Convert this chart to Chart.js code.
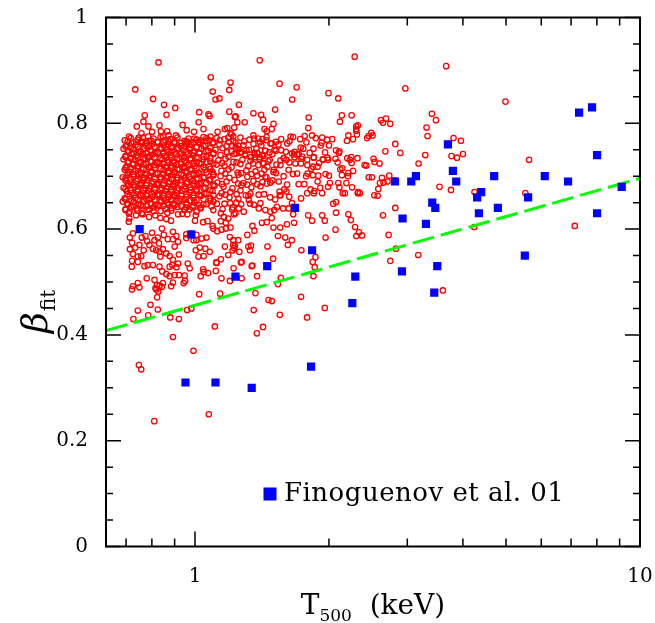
<!DOCTYPE html>
<html>
<head>
<meta charset="utf-8">
<script src="https://cdn.jsdelivr.net/npm/chart.js@4.4.1/dist/chart.umd.min.js"></script>
<style>
  html, body { margin: 0; padding: 0; background: #ffffff; }
  canvas { display: block; }
</style>
</head>
<body>
<canvas id="chart" width="655" height="623"></canvas>
<script>
// Observed clusters (Finoguenov et al. 2001): temperature T500 [keV] and beta
const finoguenovT = [0.751, 0.981, 1.677, 1.233, 1.453, 1.833, 0.952, 1.112, 1.341, 1.823,
  2.257, 2.292, 2.814, 3.062, 3.137, 2.927, 2.918, 3.304, 3.413, 3.467,
  3.449, 3.503, 3.701, 3.798, 3.864, 4.306, 4.396, 4.345, 4.702, 4.793,
  5.510, 5.605, 6.110, 6.892, 7.296, 7.803, 8.008, 8.008, 9.096];
const finoguenovBeta = [0.60, 0.59, 0.64, 0.51, 0.53, 0.56, 0.31, 0.31, 0.30, 0.34,
  0.46, 0.51, 0.69, 0.69, 0.70, 0.62, 0.52, 0.61, 0.65, 0.64,
  0.48, 0.53, 0.76, 0.71, 0.69, 0.66, 0.67, 0.63, 0.70, 0.64,
  0.55, 0.66, 0.70, 0.69, 0.82, 0.83, 0.74, 0.63, 0.68];

// Best-fit relation, straight in log T
const fitT = [0.631, 10];
const fitBeta = [0.408, 0.696];

// Simulated clusters [T500, beta]: the crowded low-temperature bulk
const simulatedBulk = [
  [0.695,0.768],[0.717,0.772],[0.743,0.769],[0.763,0.773],[0.790,0.767],[0.807,0.771],[0.837,0.774],[0.858,0.768],[0.881,0.770],[0.913,0.773],[0.947,0.767],[0.967,0.771],[1.008,0.769],[1.045,0.774],[1.077,0.768],[1.118,0.772],[1.165,0.770],[1.220,0.767],[1.265,0.773],[1.325,0.769],[1.388,0.771],[1.447,0.768],
  [0.702,0.758],[0.720,0.762],[0.735,0.759],[0.759,0.763],[0.778,0.757],[0.803,0.761],[0.824,0.764],[0.850,0.758],[0.872,0.760],[0.899,0.762],[0.928,0.757],[0.957,0.761],[0.982,0.759],[1.018,0.763],[1.055,0.758],[1.095,0.762],[1.135,0.760],[1.177,0.757],[1.233,0.763],[1.285,0.759],[1.353,0.761],[1.410,0.758],[1.478,0.762],[1.540,0.760],
  [0.691,0.752],[0.709,0.748],[0.728,0.751],[0.751,0.747],[0.770,0.753],[0.795,0.749],[0.815,0.746],[0.841,0.752],[0.863,0.750],[0.890,0.748],[0.918,0.753],[0.942,0.749],[0.972,0.751],[0.997,0.747],[1.034,0.752],[1.072,0.748],[1.112,0.750],[1.153,0.753],[1.208,0.747],[1.252,0.751],[1.305,0.749],[1.374,0.752],[1.440,0.748],[1.509,0.750],
  [0.698,0.738],[0.720,0.742],[0.739,0.739],[0.763,0.743],[0.782,0.737],[0.803,0.741],[0.828,0.744],[0.854,0.738],[0.881,0.740],[0.904,0.742],[0.932,0.737],[0.962,0.741],[0.992,0.739],[1.023,0.743],[1.061,0.738],[1.100,0.742],[1.141,0.740],[1.189,0.737],[1.239,0.743],[1.298,0.739],[1.360,0.741],[1.425,0.738],[1.493,0.742],
  [0.691,0.732],[0.709,0.728],[0.732,0.731],[0.751,0.727],[0.774,0.733],[0.795,0.729],[0.820,0.726],[0.845,0.732],[0.867,0.730],[0.894,0.728],[0.923,0.733],[0.947,0.729],[0.977,0.731],[1.008,0.727],[1.045,0.732],[1.083,0.728],[1.129,0.730],[1.171,0.733],[1.220,0.727],[1.278,0.731],[1.332,0.729],[1.396,0.732],[1.462,0.728],[1.556,0.730],
  [0.702,0.718],[0.724,0.722],[0.743,0.719],[0.766,0.723],[0.786,0.717],[0.811,0.721],[0.832,0.724],[0.858,0.718],[0.885,0.720],[0.909,0.722],[0.937,0.717],[0.967,0.721],[0.997,0.719],[1.034,0.723],[1.077,0.718],[1.118,0.722],[1.165,0.720],[1.208,0.717],[1.265,0.723],[1.318,0.719],[1.388,0.721],[1.455,0.718],[1.524,0.722],
  [0.695,0.712],[0.713,0.708],[0.735,0.711],[0.755,0.707],[0.778,0.713],[0.799,0.709],[0.824,0.706],[0.850,0.712],[0.872,0.710],[0.899,0.708],[0.923,0.713],[0.952,0.709],[0.982,0.711],[1.018,0.707],[1.055,0.712],[1.095,0.708],[1.147,0.710],[1.189,0.713],[1.246,0.707],[1.305,0.711],[1.367,0.709],[1.432,0.712],[1.501,0.708],
  [0.688,0.698],[0.706,0.702],[0.728,0.699],[0.747,0.703],[0.770,0.697],[0.790,0.701],[0.815,0.704],[0.837,0.698],[0.863,0.700],[0.890,0.702],[0.913,0.697],[0.942,0.701],[0.972,0.699],[1.008,0.703],[1.050,0.698],[1.100,0.702],[1.141,0.700],[1.195,0.697],[1.252,0.703],[1.311,0.699],[1.381,0.701],[1.447,0.698],
  [0.698,0.692],[0.717,0.688],[0.739,0.691],[0.759,0.687],[0.782,0.693],[0.807,0.689],[0.828,0.686],[0.854,0.692],[0.876,0.690],[0.904,0.688],[0.932,0.693],[0.962,0.689],[0.992,0.691],[1.029,0.687],[1.077,0.692],[1.123,0.688],[1.177,0.690],[1.227,0.693],[1.285,0.687],[1.353,0.691],[1.417,0.689],[1.493,0.692],
  [0.691,0.678],[0.709,0.682],[0.732,0.679],[0.751,0.683],[0.774,0.677],[0.795,0.681],[0.820,0.684],[0.841,0.678],[0.867,0.680],[0.894,0.682],[0.918,0.677],[0.947,0.681],[0.977,0.679],[1.013,0.683],[1.055,0.678],[1.106,0.682],[1.159,0.680],[1.214,0.677],[1.272,0.683],[1.339,0.679],[1.403,0.681],
  [0.702,0.672],[0.720,0.668],[0.743,0.671],[0.763,0.667],[0.786,0.673],[0.811,0.669],[0.832,0.666],[0.858,0.672],[0.885,0.670],[0.909,0.668],[0.937,0.673],[0.972,0.669],[1.008,0.671],[1.050,0.667],[1.095,0.672],[1.147,0.668],[1.201,0.670],[1.265,0.673],[1.332,0.667],
  [0.695,0.658],[0.713,0.662],[0.735,0.659],[0.755,0.663],[0.778,0.657],[0.803,0.661],[0.824,0.664],[0.850,0.658],[0.872,0.660],[0.899,0.662],[0.928,0.657],[0.957,0.661],[0.992,0.659],[1.034,0.663],[1.083,0.658],[1.135,0.662],[1.195,0.660],[1.252,0.657],[1.318,0.663],
  [0.688,0.652],[0.706,0.648],[0.728,0.651],[0.747,0.647],[0.770,0.653],[0.795,0.649],[0.815,0.646],[0.841,0.652],[0.867,0.650],[0.894,0.648],[0.923,0.653],[0.957,0.649],[0.997,0.651],[1.045,0.647],[1.100,0.652],[1.165,0.648],[1.239,0.650],
  [0.698,0.638],[0.717,0.642],[0.739,0.639],[0.763,0.643],[0.782,0.637],[0.807,0.641],[0.832,0.644],[0.858,0.638],[0.885,0.640],[0.913,0.642],[0.947,0.637],[0.987,0.641],[1.029,0.639],[1.089,0.643],[1.153,0.638],
  [0.713,0.633],[0.759,0.630],[0.807,0.634],[0.867,0.631],[0.937,0.629],[1.008,0.633]
];

// Further simulated clusters packed in between inside the bulk
const simulatedBulkFill = [
  [0.706,0.766],[0.728,0.764],[0.755,0.765],[0.778,0.763],[0.799,0.767],[0.824,0.765],[0.850,0.764],[0.872,0.766],[0.899,0.765],[0.932,0.763],[0.957,0.766],[0.992,0.764],[1.023,0.765],[1.061,0.767],[1.100,0.764],
  [0.698,0.756],[0.717,0.754],[0.743,0.755],[0.766,0.753],[0.790,0.757],[0.811,0.755],[0.837,0.754],[0.863,0.756],[0.885,0.755],[0.913,0.753],[0.947,0.756],[0.977,0.754],[1.008,0.755],[1.045,0.757],[1.083,0.754],
  [0.706,0.746],[0.728,0.744],[0.755,0.745],[0.778,0.743],[0.799,0.747],[0.824,0.745],[0.850,0.744],[0.872,0.746],[0.899,0.745],[0.932,0.743],[0.957,0.746],[0.992,0.744],[1.023,0.745],[1.061,0.747],[1.100,0.744],
  [0.698,0.736],[0.717,0.734],[0.743,0.735],[0.766,0.733],[0.790,0.737],[0.811,0.735],[0.837,0.734],[0.863,0.736],[0.885,0.735],[0.913,0.733],[0.947,0.736],[0.977,0.734],[1.008,0.735],[1.045,0.737],[1.083,0.734],
  [0.706,0.726],[0.728,0.724],[0.755,0.725],[0.778,0.723],[0.799,0.727],[0.824,0.725],[0.850,0.724],[0.872,0.726],[0.899,0.725],[0.932,0.723],[0.957,0.726],[0.992,0.724],[1.023,0.725],[1.061,0.727],[1.100,0.724],
  [0.698,0.716],[0.717,0.714],[0.743,0.715],[0.766,0.713],[0.790,0.717],[0.811,0.715],[0.837,0.714],[0.863,0.716],[0.885,0.715],[0.913,0.713],[0.947,0.716],[0.977,0.714],[1.008,0.715],[1.045,0.717],[1.083,0.714],
  [0.706,0.706],[0.728,0.704],[0.755,0.705],[0.778,0.703],[0.799,0.707],[0.824,0.705],[0.850,0.704],[0.872,0.706],[0.899,0.705],[0.932,0.703],[0.957,0.706],[0.992,0.704],[1.023,0.705],[1.061,0.707],[1.100,0.704],
  [0.698,0.696],[0.717,0.694],[0.743,0.695],[0.766,0.693],[0.790,0.697],[0.811,0.695],[0.837,0.694],[0.863,0.696],[0.885,0.695],[0.913,0.693],[0.947,0.696],[0.977,0.694],[1.008,0.695],[1.045,0.697],[1.083,0.694],
  [0.706,0.686],[0.728,0.684],[0.755,0.685],[0.778,0.683],[0.799,0.687],[0.824,0.685],[0.850,0.684],[0.872,0.686],[0.899,0.685],[0.932,0.683],[0.957,0.686],[0.992,0.684],[1.023,0.685],[1.061,0.687],[1.100,0.684],
  [0.698,0.676],[0.717,0.674],[0.743,0.675],[0.766,0.673],[0.790,0.677],[0.811,0.675],[0.837,0.674],[0.863,0.676],[0.885,0.675],[0.913,0.673],[0.947,0.676],[0.977,0.674],[1.008,0.675],[1.045,0.677],[1.083,0.674],
  [0.706,0.666],[0.728,0.664],[0.755,0.665],[0.778,0.663],[0.799,0.667],[0.824,0.665],[0.850,0.664],[0.872,0.666],[0.899,0.665],[0.932,0.663],[0.957,0.666],[0.992,0.664],[1.023,0.665],[1.061,0.667],[1.100,0.664],
  [0.698,0.656],[0.717,0.654],[0.743,0.655],[0.766,0.653],[0.790,0.657],[0.811,0.655],[0.837,0.654],[0.863,0.656],[0.885,0.655],[0.913,0.653],[0.947,0.656],[0.977,0.654],[1.008,0.655],[1.045,0.657],[1.083,0.654],
  [0.706,0.646],[0.728,0.644],[0.755,0.645],[0.778,0.643],[0.799,0.647],[0.824,0.645],[0.850,0.644],[0.872,0.646],[0.899,0.645],[0.932,0.643],[0.957,0.646],[0.992,0.644],[1.023,0.645],[1.061,0.647],
  [0.698,0.636],[0.743,0.635],[0.790,0.637],[0.837,0.634],[0.885,0.635],[0.947,0.636],
  [1.190,0.765],[1.290,0.766],[1.400,0.764],[1.520,0.765],[1.630,0.766],[1.780,0.764],
  [1.180,0.745],[1.270,0.746],[1.360,0.744],[1.470,0.745],[1.600,0.746],[1.810,0.744],[1.960,0.745],
  [1.150,0.725],[1.240,0.726],[1.350,0.724],[1.420,0.725],[1.630,0.726],[1.730,0.724],[1.900,0.725],
  [1.170,0.705],[1.270,0.706],[1.340,0.704],[1.410,0.705],[1.520,0.706],[1.660,0.704],[1.790,0.705],
  [1.150,0.685],[1.250,0.686],[1.310,0.684],[1.380,0.685],[1.450,0.686],[1.610,0.684],[1.760,0.685],
  [1.170,0.665],[1.240,0.666],[1.300,0.664],[1.390,0.665],[1.430,0.666],[1.550,0.664],
  [1.120,0.648],[1.200,0.649],[1.270,0.647],[1.330,0.648]
];

// Simulated clusters above the bulk (high beta)
const simulatedUpper = [
  [0.828,0.915],[0.734,0.864],[1.085,0.887],[1.202,0.877],[1.096,0.860],[1.112,0.845],[1.135,0.847],[0.805,0.846],[0.852,0.835],[0.903,0.829],
  [0.863,0.816],[0.771,0.815],[1.022,0.821],[1.072,0.817],[1.078,0.814],[1.194,0.822],[0.766,0.803],[1.019,0.802],[1.229,0.812],[0.740,0.794],
  [0.786,0.794],[0.832,0.796],[0.938,0.797],[0.958,0.787],[0.995,0.784],[1.045,0.789],[1.124,0.784],[1.167,0.789],[1.182,0.791],[1.202,0.781],
  [0.758,0.781],[0.801,0.784],[0.866,0.785],[0.711,0.775],[0.748,0.773],[0.785,0.775],[0.838,0.785],[0.847,0.775],[0.872,0.777],[0.906,0.777],
  [0.762,0.765],[0.961,0.764],[1.083,0.775],[1.188,0.773],[1.219,0.775],[0.997,0.771],[1.032,0.768],[1.061,0.772],[1.137,0.768],[1.194,0.863],
  [1.398,0.919],[1.549,0.875],[1.692,0.868],[1.995,0.857],[1.654,0.845],[2.099,0.847],[2.285,0.926],[1.255,0.835],[1.514,0.826],[1.353,0.819],
  [1.408,0.816],[1.422,0.807],[1.234,0.813],[1.245,0.802],[1.293,0.802],[1.801,0.811],[2.138,0.815],[2.117,0.803],[2.249,0.815],[2.323,0.796],
  [2.303,0.789],[1.501,0.799],[1.488,0.789],[1.433,0.789],[1.450,0.785],[1.225,0.792],[1.208,0.779],[1.797,0.791],[1.353,0.777],[1.357,0.771],
  [1.448,0.774],[1.418,0.770],[1.562,0.770],[1.640,0.775],[1.662,0.774],[1.612,0.762],[1.724,0.770],[1.764,0.776],[1.833,0.777],[1.868,0.772],
  [1.931,0.773],[1.981,0.769],[2.034,0.770],[1.925,0.763],[2.211,0.777],[2.265,0.770],[2.311,0.779],[2.195,0.767],[2.074,0.749],[2.111,0.747],
  [2.000,0.758],[1.846,0.752],[1.917,0.758],[1.728,0.754],[1.751,0.752],[1.674,0.746],[1.669,0.741],[1.697,0.741],[1.519,0.748],[1.562,0.749],
  [1.437,0.748],[1.488,0.762],[1.213,0.757],[1.234,0.754],[1.251,0.758],[1.262,0.744],[1.225,0.742],[1.295,0.742],[1.322,0.750],[1.336,0.736],
  [1.364,0.736],[1.398,0.736],[1.418,0.740],[1.582,0.734],[1.605,0.731],[1.674,0.736],[1.734,0.733],[1.849,0.735],[1.937,0.732],[1.985,0.735],
  [2.069,0.733],[2.199,0.734],[2.245,0.736]
];

// Simulated clusters at intermediate temperature (about 1.2 to 2.4 keV)
const simulatedMiddle = [
  [1.788,0.721],[1.826,0.714],[1.940,0.731],[1.991,0.731],[2.105,0.744],[1.893,0.701],[1.839,0.702],[1.777,0.700],[2.000,0.701],[1.965,0.704],
  [2.229,0.731],[2.249,0.725],[2.211,0.706],[2.318,0.734],[2.010,0.687],[2.099,0.687],[2.111,0.679],[1.817,0.675],[1.855,0.672],[1.931,0.668],
  [1.991,0.680],[2.148,0.668],[2.172,0.668],[2.347,0.668],[2.045,0.648],[2.075,0.651],[2.211,0.628],[2.240,0.617],[2.289,0.604],[2.336,0.594],
  [2.304,0.587],[1.931,0.626],[1.957,0.616],[1.833,0.616],[1.796,0.626],[2.075,0.631],[1.710,0.685],[1.629,0.661],[1.587,0.675],[1.605,0.671],
  [1.549,0.671],[1.557,0.664],[1.475,0.660],[1.514,0.656],[1.662,0.628],[1.670,0.612],[1.609,0.609],[1.488,0.621],[1.450,0.613],[1.501,0.603],
  [1.554,0.603],[1.536,0.587],[1.595,0.584],[1.651,0.579],[1.617,0.570],[1.414,0.612],[1.346,0.606],[1.360,0.597],[1.311,0.589],[1.251,0.579],
  [1.219,0.570],[1.225,0.564],[1.258,0.557],[1.329,0.560],[1.318,0.567],[1.336,0.569],[1.455,0.567],[1.498,0.544],[1.341,0.530],[1.273,0.538],
  [1.379,0.511],[1.559,0.508],[1.536,0.496],[1.734,0.560],[1.865,0.547],[1.839,0.538],[1.858,0.528],[1.846,0.511],[1.965,0.584],[2.069,0.599],
  [1.652,0.743],[1.710,0.742],[1.681,0.724],[1.623,0.712],[1.582,0.700],[1.696,0.705],[1.542,0.690],[1.477,0.688],[1.439,0.699],[1.503,0.712],
  [1.556,0.721],[1.472,0.731],[1.427,0.724],[1.415,0.740],[1.380,0.744],[1.741,0.737],[1.787,0.731],[1.849,0.736],[1.842,0.718],[1.886,0.718],
  [1.886,0.690],[2.121,0.713],[2.139,0.702],[2.207,0.700],[2.266,0.710],[2.092,0.726],[2.143,0.715],[2.189,0.687],[2.254,0.679],[2.321,0.668],
  [1.912,0.678],[1.849,0.668],[1.787,0.668],[1.731,0.658],[1.652,0.649],[1.623,0.639],[1.577,0.639],[1.528,0.642],[1.507,0.636],[1.477,0.633],
  [1.439,0.636],[1.391,0.639],[1.403,0.649],[1.356,0.646],[1.321,0.655],[1.287,0.633],[1.254,0.639],[1.233,0.630],[1.212,0.637]
];

// Simulated clusters below the bulk (low beta, T < 2 keV)
const simulatedLower = [
  [0.710,0.630],[0.712,0.620],[0.710,0.614],[0.737,0.626],[0.763,0.628],[0.788,0.623],[0.814,0.626],[0.836,0.621],[0.862,0.619],[0.883,0.616],
  [0.916,0.628],[0.961,0.628],[1.004,0.626],[1.000,0.616],[0.956,0.641],[0.973,0.637],[1.030,0.641],[1.043,0.613],[1.067,0.615],[1.099,0.636],
  [1.143,0.630],[1.161,0.623],[1.188,0.620],[1.215,0.641],[1.223,0.628],[1.173,0.612],[1.143,0.615],[1.095,0.606],[1.099,0.601],[1.122,0.596],
  [1.147,0.599],[1.173,0.601],[1.202,0.603],[1.198,0.585],[1.219,0.579],[1.035,0.582],[1.061,0.584],[1.007,0.579],[1.007,0.589],[0.956,0.590],
  [0.956,0.583],[0.892,0.595],[0.908,0.587],[0.916,0.576],[0.892,0.581],[0.900,0.567],[0.843,0.601],[0.851,0.589],[0.869,0.581],[0.825,0.584],
  [0.830,0.573],[0.801,0.593],[0.811,0.579],[0.790,0.570],[0.804,0.563],[0.818,0.560],[0.774,0.587],[0.759,0.584],[0.781,0.577],[0.767,0.560],
  [0.750,0.570],[0.734,0.565],[0.725,0.592],[0.714,0.584],[0.722,0.574],[0.714,0.562],[0.725,0.553],[0.722,0.540],[0.721,0.529],[0.744,0.548],
  [0.757,0.549],[0.744,0.538],[0.770,0.530],[0.783,0.532],[0.804,0.532],[0.836,0.548],[0.847,0.562],[0.832,0.557],[0.862,0.554],[0.877,0.549],
  [0.892,0.542],[0.920,0.552],[0.916,0.535],[0.877,0.529],[0.832,0.529],[0.844,0.520],[0.862,0.515],[0.877,0.511],[0.900,0.513],[0.920,0.513],
  [0.948,0.512],[0.889,0.532],[0.908,0.528],[0.963,0.535],[0.973,0.526],[1.004,0.560],[1.025,0.565],[1.055,0.563],[1.079,0.557],[1.018,0.548],
  [1.046,0.549],[0.993,0.579],[1.118,0.536],[1.143,0.543],[1.114,0.521],[1.167,0.567],[1.215,0.560],[1.229,0.568],[1.188,0.551],[1.043,0.524],
  [1.030,0.511],[0.779,0.507],[0.811,0.504],[0.821,0.494],[0.815,0.488],[0.725,0.492],[0.744,0.498],[0.750,0.490],[0.722,0.486],[0.847,0.498],
  [0.892,0.499],[0.884,0.492],[0.950,0.502],[0.943,0.498],[1.147,0.507],[1.198,0.502],
  [0.832,0.493],[0.819,0.486],[0.827,0.482],[0.822,0.471],[0.843,0.491],[0.794,0.457],[0.744,0.446],[0.727,0.430],[0.785,0.437],[0.825,0.448],
  [0.880,0.433],[0.920,0.430],[0.960,0.447],[0.981,0.450],[0.892,0.396],[0.748,0.343],[0.757,0.335],[0.810,0.237],[0.992,0.370],[1.074,0.250],
  [1.022,0.477],[1.108,0.416],[1.139,0.478],[1.046,0.519],[1.070,0.517],[1.116,0.537],[1.221,0.526],[1.273,0.507],[1.346,0.531],[1.268,0.537],
  [1.367,0.479],[1.355,0.447],[1.377,0.403],[1.422,0.415],[1.463,0.466],[1.488,0.464],[1.551,0.438],[1.731,0.472],[1.786,0.433],[1.957,0.451]
];

// Simulated clusters hotter than about 2.3 keV
const simulatedHot = [
  [3.668,0.908],[2.969,0.866],[3.407,0.818],[3.479,0.806],[2.618,0.806],[2.687,0.809],[2.645,0.801],[2.747,0.799],[3.314,0.792],[3.331,0.776],
  [2.304,0.794],[2.304,0.786],[2.490,0.782],[2.456,0.776],[2.506,0.777],[2.436,0.772],[2.818,0.761],[3.810,0.772],[3.959,0.767],[2.893,0.744],
  [2.677,0.747],[3.771,0.738],[3.878,0.735],[4.000,0.742],[3.292,0.740],[3.180,0.724],[2.405,0.721],[2.427,0.720],[2.519,0.733],[2.532,0.727],
  [2.599,0.724],[2.456,0.698],[2.499,0.698],[2.631,0.697],[2.604,0.687],[2.653,0.688],[2.708,0.690],[2.732,0.701],[2.582,0.676],[2.529,0.664],
  [2.573,0.663],[2.325,0.670],[2.808,0.692],[3.544,0.680],[3.760,0.674],[4.247,0.670],[2.818,0.640],[2.645,0.626],[2.373,0.588],[2.723,0.589],
  [4.240,0.604],[2.829,0.563],[3.175,0.551],[2.747,0.540],[3.606,0.484],[4.985,0.841],[5.633,0.731],[5.527,0.668],[7.135,0.606]
];

// Axis settings
const axisTRange = [0.631, 10];
const axisBetaRange = [0, 1];
const tLabelTicks = [1, 10];
const tMajorTicks = [1, 10];
const tMinorTicks = [0.7, 0.8, 0.9, 2, 3, 4, 5, 6, 7, 8, 9];
const betaMajorTicks = [0, 0.2, 0.4, 0.6, 0.8, 1];
const betaMinorTicks = [0.05, 0.1, 0.15, 0.25, 0.3, 0.35, 0.45, 0.5, 0.55, 0.65, 0.7, 0.75, 0.85, 0.9, 0.95];
const legendLabel = 'Finoguenov et al. 01';

const SERIF = "'DejaVu Serif', 'Liberation Serif', serif";
Chart.defaults.font.family = SERIF;
Chart.defaults.font.size = 20;
Chart.defaults.color = '#000000';

const toPoints = (pairs) => pairs.map(([t, b]) => ({ x: t, y: b }));
const simulated = toPoints([].concat(simulatedBulk, simulatedBulkFill, simulatedUpper, simulatedMiddle, simulatedLower, simulatedHot));
const observed = finoguenovT.map((t, i) => ({ x: t, y: finoguenovBeta[i] }));
const fitLine = fitT.map((t, i) => ({ x: t, y: fitBeta[i] }));

// White page behind the plot
const paper = {
  id: 'paper',
  beforeDraw(chart) {
    const { ctx, width, height } = chart;
    ctx.save();
    ctx.fillStyle = '#ffffff';
    ctx.fillRect(0, 0, width, height);
    ctx.restore();
  }
};

// Boxed frame with inward ticks on all four sides, axis titles and the key
const frameAndLabels = {
  id: 'frameAndLabels',
  afterDraw(chart) {
    const { ctx, chartArea: a, scales: { x, y } } = chart;
    ctx.save();
    ctx.strokeStyle = '#000000';
    ctx.lineWidth = 1.5;
    ctx.beginPath();
    const xTick = (v, len) => {
      const p = x.getPixelForValue(v);
      ctx.moveTo(p, a.bottom); ctx.lineTo(p, a.bottom - len);
      ctx.moveTo(p, a.top); ctx.lineTo(p, a.top + len);
    };
    const yTick = (v, len) => {
      const p = y.getPixelForValue(v);
      ctx.moveTo(a.left, p); ctx.lineTo(a.left + len, p);
      ctx.moveTo(a.right, p); ctx.lineTo(a.right - len, p);
    };
    tMajorTicks.forEach(v => xTick(v, 15));
    tMinorTicks.forEach(v => xTick(v, 8));
    betaMajorTicks.forEach(v => yTick(v, 15));
    betaMinorTicks.forEach(v => yTick(v, 7));
    ctx.stroke();
    ctx.lineWidth = 2;
    ctx.strokeRect(a.left, a.top, a.right - a.left, a.bottom - a.top);

    // x title: T_500 (keV)
    ctx.fillStyle = '#000000';
    ctx.textBaseline = 'alphabetic';
    ctx.textAlign = 'left';
    const big = '28px ' + SERIF, small = '17px ' + SERIF;
    ctx.font = big; const wT = ctx.measureText('T').width; const wUnit = ctx.measureText('  (keV)').width;
    ctx.font = small; const wSub = ctx.measureText('500').width;
    let xs = (a.left + a.right) / 2 - (wT + wSub + wUnit) / 2;
    const base = 614;
    ctx.font = big; ctx.fillText('T', xs, base); xs += wT;
    ctx.font = small; ctx.fillText('500', xs, base + 7); xs += wSub;
    ctx.font = big; ctx.fillText('  (keV)', xs, base);

    // y title: beta_fit, rotated
    ctx.save();
    ctx.translate(47, 333);
    ctx.rotate(-Math.PI / 2);
    ctx.font = 'italic 36px ' + SERIF;
    const wB = ctx.measureText('\u03B2').width;
    ctx.fillText('\u03B2', 0, 0);
    ctx.font = '20px ' + SERIF;
    ctx.fillText('fit', wB + 1, 8);
    ctx.restore();

    // key for the observed sample
    const kx = a.left + 164, ky = a.top + 476.5;
    ctx.fillStyle = '#0000ff';
    ctx.fillRect(kx - 6.5, ky - 6.5, 13, 13);
    ctx.fillStyle = '#000000';
    ctx.font = '26px ' + SERIF;
    ctx.letterSpacing = '0.5px';
    ctx.fillText(legendLabel, kx + 14, ky + 7);
    ctx.restore();
  }
};

// Drop the edge-label padding so the plot box sits exactly inside the layout padding
const noEdgePadding = (scale) => {
  scale.paddingTop = 0; scale.paddingBottom = 0;
  scale.paddingLeft = 0; scale.paddingRight = 0;
};

new Chart(document.getElementById('chart'), {
  type: 'scatter',
  data: {
    datasets: [
      {
        label: legendLabel,
        data: observed,
        pointStyle: 'rect',
        pointRadius: 5.8,
        pointHoverRadius: 5.8,
        backgroundColor: '#0000ff',
        borderColor: '#0000ff',
        pointBorderWidth: 0
      },
      {
        label: 'fit',
        data: fitLine,
        showLine: true,
        borderColor: '#00ff00',
        borderWidth: 3,
        borderDash: [22, 7],
        pointRadius: 0,
        pointHoverRadius: 0,
        fill: false
      },
      {
        label: 'simulated',
        data: simulated,
        pointStyle: 'circle',
        pointRadius: 2.7,
        pointHoverRadius: 2.7,
        borderColor: '#ff0000',
        backgroundColor: 'rgba(255,255,255,0)',
        pointBorderWidth: 1.3
      }
    ]
  },
  options: {
    responsive: false,
    animation: false,
    events: [],
    layout: { padding: { top: 17.5, right: 15, left: 0, bottom: 0 } },
    plugins: { legend: { display: false }, tooltip: { enabled: false } },
    scales: {
      x: {
        type: 'logarithmic',
        bounds: 'data',
        min: axisTRange[0],
        max: axisTRange[1],
        grid: { display: false, drawTicks: false },
        border: { display: false },
        afterBuildTicks: (scale) => { scale.ticks = tLabelTicks.map(v => ({ value: v })); },
        afterFit: (scale) => { scale.height = 76.5; noEdgePadding(scale); },
        ticks: {
          autoSkip: false,
          maxRotation: 0,
          padding: 18,
          font: { size: 20 },
          callback: (v) => String(v)
        }
      },
      y: {
        type: 'linear',
        min: axisBetaRange[0],
        max: axisBetaRange[1],
        grid: { display: false, drawTicks: false },
        border: { display: false },
        afterFit: (scale) => { scale.width = 106; noEdgePadding(scale); },
        ticks: {
          stepSize: 0.2,
          padding: 18,
          font: { size: 20 },
          callback: (v) => String(Number(v.toFixed(1)))
        }
      }
    }
  },
  plugins: [paper, frameAndLabels]
});
</script>
</body>
</html>
